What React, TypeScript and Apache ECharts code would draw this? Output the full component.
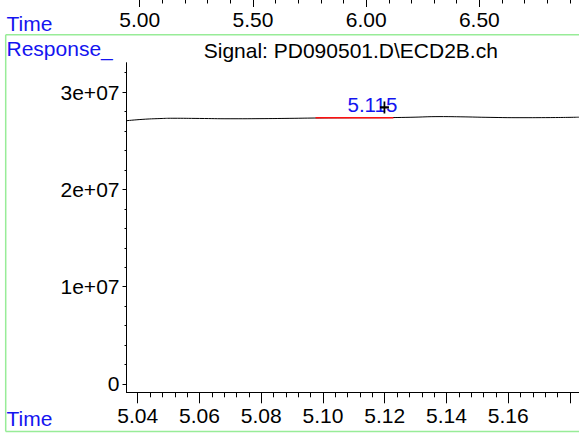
import React, { useEffect, useRef } from "react";
import * as echarts from "echarts";

// ---- data ----
const signalTimes = [5.0364, 5.0417, 5.0472, 5.0514, 5.06, 5.0699, 5.0796, 5.0893, 5.099, 5.1087, 5.1185, 5.1282, 5.1379, 5.1444, 5.1541, 5.1638, 5.1736, 5.1829];
const signalValues = [2.706e7, 2.72e7, 2.728e7, 2.731e7, 2.729e7, 2.726e7, 2.727e7, 2.73e7, 2.734e7, 2.736e7, 2.737e7, 2.741e7, 2.748e7, 2.746e7, 2.74e7, 2.737e7, 2.738e7, 2.742e7];
const baselineTimes = [5.0976, 5.1228];
const baselineValues = [2.737e7, 2.737e7];
const apexMarker = [5.1199, 2.842e7];
const peakLabelPos = [5.116, 2.87e7];
const peakLabelText = "5.115";

const xMajorTicks = [5.04, 5.06, 5.08, 5.1, 5.12, 5.14, 5.16, 5.18];
const xLabelTicks = [5.04, 5.06, 5.08, 5.1, 5.12, 5.14, 5.16];
const xMinorTicks: number[] = [];
for (let i = 0; i <= 35; i++) xMinorTicks.push(+(5.04 + i * 0.004).toFixed(3));
const yMajorTicks = [0, 1e7, 2e7, 3e7];
const yTickLabels = ["0", "1e+07", "2e+07", "3e+07"];
const yMinorTicks: number[] = [];
for (let i = 0; i <= 16; i++) yMinorTicks.push(i * 2e6);
const topMajorTicks = [5.0, 5.5, 6.0, 6.5];
const topTickLabels = ["5.00", "5.50", "6.00", "6.50"];
const topMinorTicks: number[] = [];
for (let i = 0; i <= 19; i++) topMinorTicks.push(+(5.0 + i * 0.1).toFixed(1));

const xRange = [5.03637, 5.18291];
const yRange = [-853000, 33020000];
const topRange = [4.383, 6.94];

const FONT = "'Liberation Sans', Arial, sans-serif";
const BLUE = "#1414f0";
const GREEN = "#98ec98";

export default function App() {
  const ref = useRef<HTMLDivElement>(null);
  useEffect(() => {
    if (!ref.current) return;
    const chart = echarts.init(ref.current, undefined, { renderer: "svg" });
    const labelStyle = { color: "#000", fontSize: 21, fontFamily: FONT };
    const option: any = {
      animation: false,
      backgroundColor: "#fff",
      grid: [
        { left: 126.5, right: 0, top: 62.7, bottom: 41.7 },
        { left: 0, right: 0, top: 0, height: 100 },
      ],
      xAxis: [
        {
          type: "value", gridIndex: 0, position: "bottom", min: xRange[0], max: xRange[1],
          axisLine: { show: true, onZero: false, lineStyle: { color: "#000", width: 1 } },
          axisTick: { show: true, length: 11, customValues: xMajorTicks, lineStyle: { color: "#000" } },
          axisLabel: { show: true, margin: 13, customValues: xLabelTicks, formatter: (v: number) => v.toFixed(2), ...labelStyle },
          splitLine: { show: false },
        },
        {
          type: "value", gridIndex: 0, position: "bottom", min: xRange[0], max: xRange[1],
          axisLine: { show: false, onZero: false },
          axisTick: { show: true, length: 5, customValues: xMinorTicks, lineStyle: { color: "#000" } },
          axisLabel: { show: false },
          splitLine: { show: false },
        },
        {
          type: "value", gridIndex: 1, position: "top", min: topRange[0], max: topRange[1],
          axisLine: { show: false, onZero: false },
          axisTick: { show: true, inside: true, length: 7, customValues: topMajorTicks, lineStyle: { color: "#000" } },
          axisLabel: {
            show: true, inside: true, margin: 9, customValues: topMajorTicks,
            formatter: (v: number) => topTickLabels[topMajorTicks.findIndex((t) => Math.abs(t - v) < 1e-6)] ?? "",
            ...labelStyle,
          },
          splitLine: { show: false },
        },
        {
          type: "value", gridIndex: 1, position: "top", min: topRange[0], max: topRange[1],
          axisLine: { show: false, onZero: false },
          axisTick: { show: true, inside: true, length: 3.5, customValues: topMinorTicks, lineStyle: { color: "#000" } },
          axisLabel: { show: false },
          splitLine: { show: false },
        },
      ],
      yAxis: [
        {
          type: "value", gridIndex: 0, position: "left", min: yRange[0], max: yRange[1],
          axisLine: { show: true, onZero: false, lineStyle: { color: "#000", width: 1 } },
          axisTick: { show: true, length: 4, customValues: yMajorTicks, lineStyle: { color: "#000" } },
          axisLabel: {
            show: true, margin: 7, customValues: yMajorTicks,
            formatter: (v: number) => yTickLabels[yMajorTicks.findIndex((t) => Math.abs(t - v) < 1)] ?? "",
            ...labelStyle,
          },
          splitLine: { show: false },
        },
        {
          type: "value", gridIndex: 0, position: "left", min: yRange[0], max: yRange[1],
          axisLine: { show: false, onZero: false },
          axisTick: { show: true, length: 2, customValues: yMinorTicks, lineStyle: { color: "#000" } },
          axisLabel: { show: false },
          splitLine: { show: false },
        },
        {
          type: "value", gridIndex: 1, min: 0, max: 1, show: false,
        },
      ],
      series: [
        {
          type: "line", xAxisIndex: 0, yAxisIndex: 0, smooth: true, showSymbol: false,
          data: signalTimes.map((t, i) => [t, signalValues[i]]),
          lineStyle: { color: "#000", width: 1 }, z: 2,
        },
        {
          type: "line", xAxisIndex: 0, yAxisIndex: 0, showSymbol: false,
          data: baselineTimes.map((t, i) => [t, baselineValues[i]]),
          lineStyle: { color: "#ff1010", width: 1.6 }, z: 3,
        },
        {
          type: "scatter", xAxisIndex: 0, yAxisIndex: 0,
          data: [peakLabelPos],
          symbolSize: 0,
          itemStyle: { opacity: 1 },
          label: { show: true, position: "inside", formatter: peakLabelText, color: BLUE, opacity: 1, fontSize: 20.5, fontFamily: FONT },
          z: 4,
        },
        {
          type: "scatter", xAxisIndex: 0, yAxisIndex: 0,
          data: [apexMarker],
          symbol: "path://M0,6L10,6M5,0L5,12",
          symbolSize: [9, 12],
          itemStyle: { color: "none", borderColor: "#000", borderWidth: 2, opacity: 1 },
          z: 5,
        },
      ],
      graphic: [
        { type: "line", shape: { x1: 5.7, y1: 34.7, x2: 579, y2: 34.7 }, style: { stroke: GREEN, lineWidth: 1.5 } },
        { type: "line", shape: { x1: 5.7, y1: 34.7, x2: 5.7, y2: 431.5 }, style: { stroke: GREEN, lineWidth: 1.5 } },
        { type: "line", shape: { x1: 5.7, y1: 431.5, x2: 579, y2: 431.5 }, style: { stroke: GREEN, lineWidth: 1.5 } },
        { type: "text", x: 6.5, y: 23, style: { text: "Time", fill: BLUE, fontSize: 21, fontFamily: FONT, verticalAlign: "middle", align: "left" } },
        { type: "text", x: 6.5, y: 48, style: { text: "Response_", fill: BLUE, fontSize: 21, fontFamily: FONT, verticalAlign: "middle", align: "left" } },
        { type: "text", x: 6.5, y: 418.3, style: { text: "Time", fill: BLUE, fontSize: 21, fontFamily: FONT, verticalAlign: "middle", align: "left" } },
        { type: "text", x: 350.8, y: 50, style: { text: "Signal: PD090501.D\\ECD2B.ch", fill: "#000", fontSize: 21, fontFamily: FONT, verticalAlign: "middle", align: "center" } },
      ],
    };
    chart.setOption(option);
    return () => chart.dispose();
  }, []);
  return (
    <div
      ref={ref}
      style={{ position: "fixed", left: 0, top: 0, width: 579, height: 434, background: "#fff" }}
    />
  );
}
